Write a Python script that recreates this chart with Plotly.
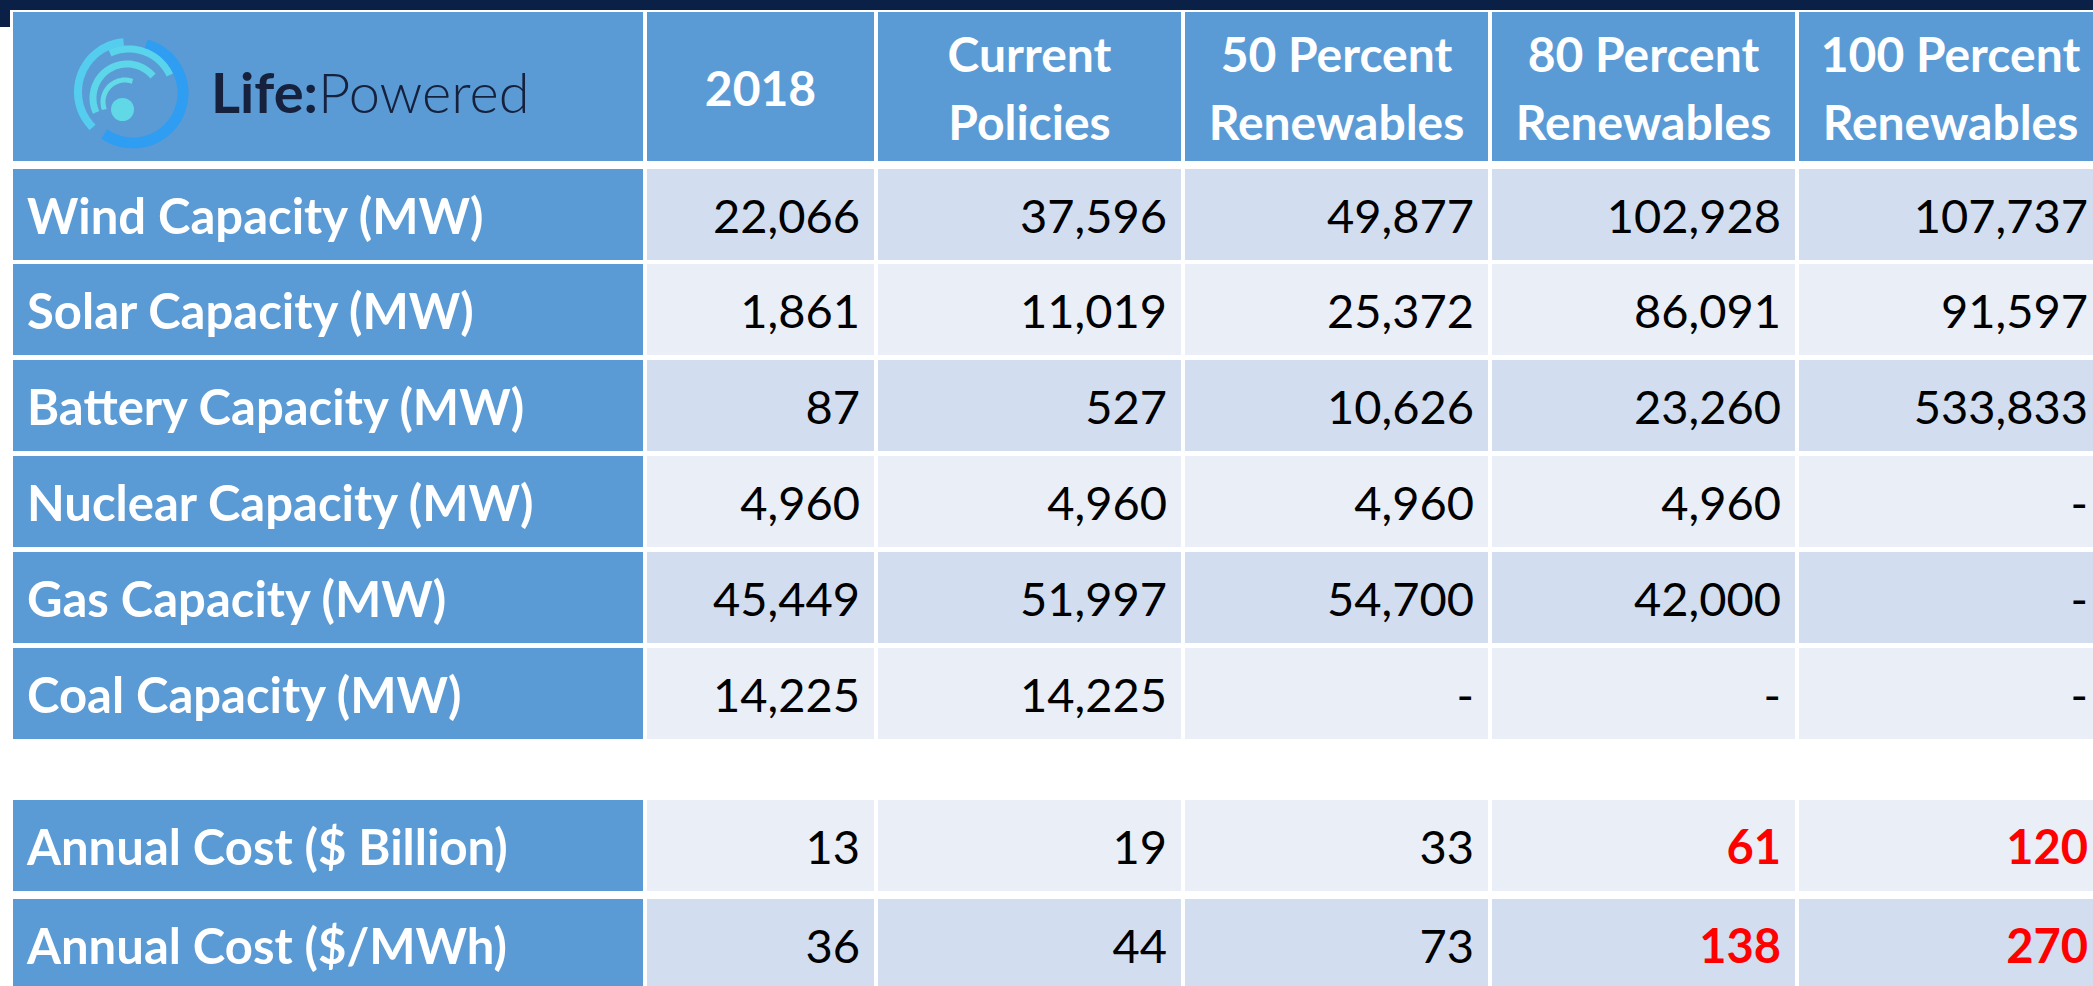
import numpy as np
import plotly.graph_objects as go

# ---- table data ----
scenarios = [["2018"], ["Current", "Policies"], ["50 Percent", "Renewables"],
             ["80 Percent", "Renewables"], ["100 Percent", "Renewables"]]
capacity_rows = ["Wind Capacity (MW)", "Solar Capacity (MW)", "Battery Capacity (MW)",
                 "Nuclear Capacity (MW)", "Gas Capacity (MW)", "Coal Capacity (MW)"]
wind = [22066, 37596, 49877, 102928, 107737]
solar = [1861, 11019, 25372, 86091, 91597]
battery = [87, 527, 10626, 23260, 533833]
nuclear = [4960, 4960, 4960, 4960, None]
gas = [45449, 51997, 54700, 42000, None]
coal = [14225, 14225, None, None, None]
cost_rows = ["Annual Cost ($ Billion)", "Annual Cost ($/MWh)"]
cost_billion = [13, 19, 33, 61, 120]
cost_mwh = [36, 44, 73, 138, 270]
red_cols = [3, 4]  # scenarios whose cost is flagged in red

capacity_vals = [wind, solar, battery, nuclear, gas, coal]
cost_vals = [cost_billion, cost_mwh]

# ---- layout (pixels) ----
W, H = 2093, 986
col_left = [13, 647, 878, 1185, 1492, 1799]
col_right = [643, 874, 1181, 1488, 1795, 2102]
header_span = (12, 161)
cap_tops = [169, 264, 360, 456, 552, 648]
cost_tops = [800, 899]
ROW_H = 91
PAD = 14
DY = 7  # nudge text down to sit like the original

BLUE = "#5B9BD5"
DARK = "#D2DEEF"
LIGHT = "#E9EEF7"
NAVY = "#0B2047"
FONT = "Lato"
FS = 47

rows = []  # (top, bottom, label, values, fill, is_cost)
for i, (lab, vals) in enumerate(zip(capacity_rows, capacity_vals)):
    rows.append((cap_tops[i], cap_tops[i] + ROW_H, lab, vals, DARK if i % 2 == 0 else LIGHT, False))
for i, (lab, vals) in enumerate(zip(cost_rows, cost_vals)):
    rows.append((cost_tops[i], cost_tops[i] + ROW_H, lab, vals, LIGHT if i % 2 == 0 else DARK, True))

# cells as horizontal bars
by, bx, bbase, bw, bcol = [], [], [], [], []
all_rows = [(header_span[0], header_span[1], None, None, BLUE, False)] + rows
for top, bot, lab, vals, fill, _ in all_rows:
    for c in range(6):
        by.append((top + bot) / 2)
        bbase.append(col_left[c])
        bx.append(col_right[c] - col_left[c])
        bw.append(bot - top)
        bcol.append(BLUE if (c == 0 or lab is None) else fill)

fig = go.Figure()
fig.add_trace(go.Bar(
    orientation="h", y=by, x=bx, base=bbase, width=bw,
    marker=dict(color=bcol, line=dict(width=0)),
    hoverinfo="skip", showlegend=False,
))

# header text
hx, hy, ht = [], [], []
hc = (header_span[0] + header_span[1]) / 2 + DY
for c, lines in enumerate(scenarios, start=1):
    cx = (col_left[c] + col_right[c]) / 2
    n = len(lines)
    for k, line in enumerate(lines):
        hx.append(cx)
        hy.append(hc + (k - (n - 1) / 2) * 68)
        ht.append("<b>" + line + "</b>")
fig.add_trace(go.Scatter(
    x=hx, y=hy, text=ht, mode="text", textposition="middle center",
    textfont=dict(family=FONT, size=FS + 1, color="white"),
    hoverinfo="skip", showlegend=False,
))

# row labels
fig.add_trace(go.Scatter(
    x=[col_left[0] + 14] * len(rows), y=[(r[0] + r[1]) / 2 + DY for r in rows],
    text=["<b>" + r[2] + "</b>" for r in rows], mode="text", textposition="middle right",
    textfont=dict(family=FONT, size=FS + 2, color="white"),
    hoverinfo="skip", showlegend=False,
))

# values
vx, vy, vt, vc = [], [], [], []
for top, bot, lab, vals, fill, is_cost in rows:
    for c, v in enumerate(vals):
        vx.append(col_right[c + 1] - PAD)
        vy.append((top + bot) / 2 + DY)
        s = "-" if v is None else f"{v:,}"
        if is_cost and c in red_cols:
            vt.append("<b>" + s + "</b>")
            vc.append("#FF0000")
        else:
            vt.append(s)
            vc.append("black")
fig.add_trace(go.Scatter(
    x=vx, y=vy, text=vt, mode="text", textposition="middle left",
    textfont=dict(family=FONT, size=FS, color=vc),
    hoverinfo="skip", showlegend=False,
))

# ---- logo (decoration) ----
def arc(cx, cy, r, a0, a1, n=60):
    t = np.radians(np.linspace(a0, a1, n))
    xs, ys = cx + r * np.cos(t), cy - r * np.sin(t)
    return "M " + " L ".join(f"{x:.1f},{y:.1f}" for x, y in zip(xs, ys))

shapes = [
    dict(type="rect", xref="x", yref="y", x0=0, x1=W, y0=0, y1=10, fillcolor=NAVY, line_width=0),
    dict(type="rect", xref="x", yref="y", x0=0, x1=10, y0=0, y1=27, fillcolor=NAVY, line_width=0),
]
logo_arcs = [
    (133, 93, 50, 75, -125, 11, "#2E9DF2"),
    (128, 92, 50, 225, 95, 8, "#55CDEE"),
    (129, 94, 45, 115, 25, 7, "#5AD3EC"),
    (127, 98, 34, 205, 40, 7, "#5CD6E8"),
    (125, 102, 22, 200, 70, 5, "#62DBE6"),
]
for cx, cy, r, a0, a1, w, col in logo_arcs:
    shapes.append(dict(type="path", xref="x", yref="y", path=arc(cx, cy, r, a0, a1),
                       line=dict(color=col, width=w)))
shapes.append(dict(type="circle", xref="x", yref="y", x0=111, x1=134, y0=98, y1=121,
                   fillcolor="#60D8E6", line_width=0))

fig.add_annotation(
    x=209, y=91, xref="x", yref="y", xanchor="left", yanchor="middle", showarrow=False,
    text="<b>Life:</b><span style='font-weight:300'>Powered</span>",
    font=dict(family=FONT, size=56, color="#15213D"),
)

fig.update_layout(
    width=W, height=H, margin=dict(l=0, r=0, t=0, b=0),
    paper_bgcolor="white", plot_bgcolor="white", shapes=shapes,
    xaxis=dict(range=[0, W], visible=False, fixedrange=True),
    yaxis=dict(range=[H, 0], visible=False, fixedrange=True),
    bargap=0,
)
fig.write_html(
    "out.html",
    config={"displayModeBar": False},
    post_script="document.body.style.margin='0';document.body.style.overflow='hidden';",
)
